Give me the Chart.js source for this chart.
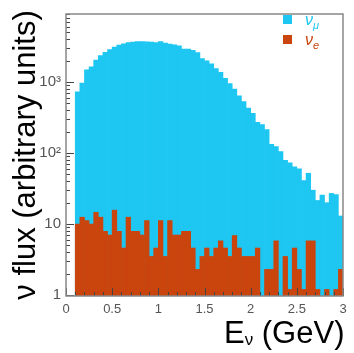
<!DOCTYPE html>
<html>
<head>
<meta charset="utf-8">
<script src="https://cdn.jsdelivr.net/npm/chart.js@4"></script>
<style>
  body { margin: 0; background: #fff; }
  #wrap { position: relative; width: 354px; height: 353px; }
  canvas { position: absolute; left: 0; top: 0; }
  .legend-box { position: absolute; width: 9px; height: 9px; left: 283px; }
  .legend-txt { position: absolute; left: 305px; font: italic 16px "Liberation Sans", Arial, sans-serif; line-height: 16px; }
  .legend-txt sub { font-size: 11px; line-height: 0; vertical-align: -4px; }
  #xtitle { position: absolute; left: 224px; top: 317px; font: 31px "Liberation Sans", Arial, sans-serif; line-height: 31px; color: #000; white-space: nowrap; }
  #xtitle sub { font-size: 17px; line-height: 0; vertical-align: -2px; }
</style>
</head>
<body>
<div id="wrap">
  <canvas id="fluxChart" width="354" height="353"></canvas>
  <div class="legend-box" style="top:15px;background:#1ec6f2"></div>
  <div class="legend-txt" style="top:12px;color:#1ec6f2">ν<sub>μ</sub></div>
  <div class="legend-box" style="top:35px;background:#c9450d"></div>
  <div class="legend-txt" style="top:32px;color:#c9450d">ν<sub>e</sub></div>
  <div id="xtitle">E<sub>ν</sub> (GeV)</div>
</div>
<script>
// bin centres (GeV), 0.05 GeV wide bins from 0.1 to 3.0
const binCenters = [
  0.125, 0.175, 0.225, 0.275, 0.325, 0.375, 0.425, 0.475, 0.525, 0.575,
  0.625, 0.675, 0.725, 0.775, 0.825, 0.875, 0.925, 0.975, 1.025, 1.075,
  1.125, 1.175, 1.225, 1.275, 1.325, 1.375, 1.425, 1.475, 1.525, 1.575,
  1.625, 1.675, 1.725, 1.775, 1.825, 1.875, 1.925, 1.975, 2.025, 2.075,
  2.125, 2.175, 2.225, 2.275, 2.325, 2.375, 2.425, 2.475, 2.525, 2.575,
  2.625, 2.675, 2.725, 2.775, 2.825, 2.875, 2.925, 2.975
];

// nu_mu flux
const numuFlux = [
  730, 970, 1490, 1640, 2040, 2360, 2630, 2860, 3110, 3310,
  3450, 3600, 3650, 3720, 3720, 3680, 3650, 3600, 3720, 3530,
  3420, 3350, 3240, 2920, 2920, 2800, 2600, 2150, 2000, 1815,
  1550, 1370, 1130, 950, 795, 638, 533, 432, 362, 270,
  251, 215, 133, 123, 105, 79, 73, 64, 60, 41,
  52, 30, 21.5, 25.6, 20, 27, 26, 13
];

// nu_e flux (empty bins are null)
const nueFlux = [
  10, 12.5, 11.2, 10, 14.6, 12.5, 7.9, 7, 15.7, 7.9,
  4.6, 12.5, 7.9, 7.9, 7, 11.2, 3.5, 4.6, 11.2, 3.5,
  11.2, 7, 7, 7.9, 7.9, 4.6, 2.3, 3.5, 4.6, 3.5,
  4.6, 5.8, 4.6, 3.5, 6.9, 4.6, 3.5, 3.5, 3.5, 4.6,
  null, 2.3, 2.3, 5.8, null, 3.5, 1.2, 4.6, 2.3, 1.2,
  5.8, 5.8, 1.2, null, 1.2, null, 1.2, 2.3
];

const xTicks = [0, 0.5, 1, 1.5, 2, 2.5, 3];
const yTicks = [1, 10, 100, 1000];
const yTickLabels = { 1: '1', 10: '10', 100: '10²', 1000: '10³' };

// ROOT-like frame with ticks pointing into the plot
const frameTicks = {
  id: 'frameTicks',
  afterDatasetsDraw(chart) {
    const { ctx, chartArea: a, scales: { x, y } } = chart;
    ctx.save();
    ctx.strokeStyle = '#444';
    ctx.lineWidth = 1;
    ctx.beginPath();
    // x ticks: major every 0.5, minor every 0.1
    for (let i = 0; i <= 30; i++) {
      const px = Math.round(x.getPixelForValue(i / 10)) + 0.5;
      const len = i % 5 === 0 ? 8 : 4;
      ctx.moveTo(px, a.bottom);
      ctx.lineTo(px, a.bottom - len);
    }
    // y ticks: decades + minor
    yTicks.forEach(dec => {
      for (let m = 1; m <= 9; m++) {
        const v = dec * m;
        if (v > y.max) break;
        const py = Math.round(y.getPixelForValue(v)) + 0.5;
        const len = m === 1 ? 8 : 4;
        ctx.moveTo(a.left, py);
        ctx.lineTo(a.left + len, py);
      }
    });
    ctx.stroke();
    ctx.strokeStyle = '#888';
    ctx.lineWidth = 1.5;
    ctx.strokeRect(a.left, a.top, a.right - a.left, a.bottom - a.top);
    ctx.restore();
  }
};

const ctx = document.getElementById('fluxChart').getContext('2d');
new Chart(ctx, {
  type: 'bar',
  data: {
    datasets: [
      {
        label: 'ν_μ',
        data: binCenters.map((e, i) => ({ x: e, y: numuFlux[i] })),
        backgroundColor: '#1ec6f2',
        borderWidth: 0,
        order: 2
      },
      {
        label: 'ν_e',
        data: binCenters.map((e, i) => ({ x: e, y: nueFlux[i] })),
        backgroundColor: '#c9450d',
        borderWidth: 0,
        order: 1
      }
    ]
  },
  options: {
    responsive: false,
    animation: false,
    grouped: false,
    barPercentage: 1,
    categoryPercentage: 1,
    layout: { padding: { top: 5, right: 11, left: 0, bottom: 0 } },
    plugins: {
      legend: { display: false },
      tooltip: { enabled: false }
    },
    scales: {
      x: {
        type: 'linear',
        min: 0,
        max: 3,
        offset: false,
        grid: { display: false, drawTicks: false },
        border: { display: false },
        afterBuildTicks: scale => { scale.ticks = xTicks.map(v => ({ value: v })); },
        afterFit: scale => { scale.height = 57; },
        ticks: {
          color: '#555',
          padding: 6,
          maxRotation: 0,
          font: { family: 'Liberation Sans', size: 13 },
          callback: v => String(v)
        }
      },
      y: {
        type: 'logarithmic',
        min: 0.97,
        max: 9100,
        grid: { display: false, drawTicks: false },
        border: { display: false },
        afterBuildTicks: scale => { scale.ticks = yTicks.map(v => ({ value: v })); },
        afterFit: scale => { scale.width = 66; },
        ticks: {
          color: '#555',
          padding: 5,
          font: { family: 'Liberation Sans', size: 15 },
          callback: v => yTickLabels[v] || ''
        },
        title: {
          display: true,
          text: 'ν flux (arbitrary units)',
          color: '#000',
          padding: { top: 8, bottom: 0 },
          font: { family: 'Liberation Sans', size: 31 }
        }
      }
    }
  },
  plugins: [frameTicks]
});
</script>
</body>
</html>
